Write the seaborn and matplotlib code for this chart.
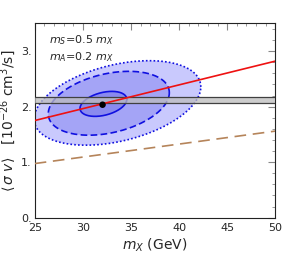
import numpy as np
import pandas as pd
import seaborn as sns
import matplotlib
matplotlib.use("Agg")
import matplotlib.pyplot as plt
from matplotlib.ticker import MultipleLocator

# ---- data ----
red_x = [25, 50]
red_y = [1.75, 2.82]
brown_x = [25, 50]
brown_y = [0.975, 1.56]
band_lo, band_hi = 2.07, 2.165
best_x = [32.05]
best_y = [2.035]
# contour parameters: center x, center y, half-width x, half-height y, correlation
cont_cx = [33.6, 32.7, 32.14]
cont_cy = [2.067, 2.061, 2.05]
cont_rx = [8.66, 6.29, 2.43]
cont_ry = [0.761, 0.575, 0.225]
cont_rho = [0.38, 0.33, 0.36]
cont_fill = ["#c9c9fd", "#a4a4f6", "#8a8aee"]
cont_style = [(0, (1, 1.3)), (0, (4, 2)), "-"]
xticks = [25, 30, 35, 40, 45, 50]
yticks = [0, 1, 2, 3]
ytick_labels = ["0.", "1.", "2.", "3."]

sns.set_style("white")
plt.rcParams['font.family'] = ['DejaVu Sans']

fig = plt.figure(figsize=(2.83, 2.54), dpi=100)
ax = fig.add_axes([0.1226, 0.1429, 0.8502, 0.7651])

t = np.linspace(0, 2 * np.pi, 400)
for cx, cy, rx, ry, rho, fc, ls in zip(cont_cx, cont_cy, cont_rx, cont_ry,
                                       cont_rho, cont_fill, cont_style):
    d = np.arccos(rho)
    ex = cx + rx * np.cos(t)
    ey = cy + ry * np.cos(t - d)
    ax.fill(ex, ey, color=fc, lw=0, zorder=1)
    ax.plot(ex, ey, color="#1010e0", lw=1.2, ls=ls, zorder=2)

ax.axhspan(band_lo, band_hi, color="#bdbdbd", alpha=0.75, lw=0, zorder=3)
ax.axhline(band_lo, color="#404040", lw=0.9, zorder=3)
ax.axhline(band_hi, color="#404040", lw=0.9, zorder=3)

df_red = pd.DataFrame({"x": red_x, "y": red_y})
df_brown = pd.DataFrame({"x": brown_x, "y": brown_y})
sns.lineplot(data=df_red, x="x", y="y", color="#ee1111", lw=1.2, ax=ax, zorder=4)
sns.lineplot(data=df_brown, x="x", y="y", color="#b5845a", lw=1.2, ax=ax,
             zorder=4, dashes=False)
ax.lines[-1].set_dashes((7, 4))
sns.scatterplot(x=best_x, y=best_y, color="black", s=22, ax=ax, zorder=5,
                edgecolor="none")

ax.set_xlim(25, 50)
ax.set_ylim(0, 3.5)
ax.set_xticks(xticks)
ax.set_yticks(yticks)
ax.set_yticklabels(ytick_labels)
ax.xaxis.set_minor_locator(MultipleLocator(1))
ax.yaxis.set_minor_locator(MultipleLocator(0.2))
ax.tick_params(which="both", direction="in", top=True, right=True,
               color="#888888", labelsize=8, pad=2)
ax.tick_params(axis="x", which="major", pad=3.5)
ax.tick_params(which="major", length=5, width=0.8)
ax.tick_params(which="minor", length=2.5, width=0.6)
for s in ax.spines.values():
    s.set_color("#222222")
    s.set_linewidth(0.8)

ax.set_xlabel(r"$m_X$ (GeV)", fontsize=10, labelpad=3)
ax.set_ylabel(r"$\langle\,\sigma\ v\rangle$   [10$^{-26}$ cm$^3$/s]", fontsize=10,
              labelpad=2)
ax.text(26.5, 3.2, r"$m_S$=0.5 $m_X$", fontsize=8, va="center", zorder=6)
ax.text(26.5, 2.9, r"$m_A$=0.2 $m_X$", fontsize=8, va="center", zorder=6)

fig.savefig("out.png", dpi=100)
